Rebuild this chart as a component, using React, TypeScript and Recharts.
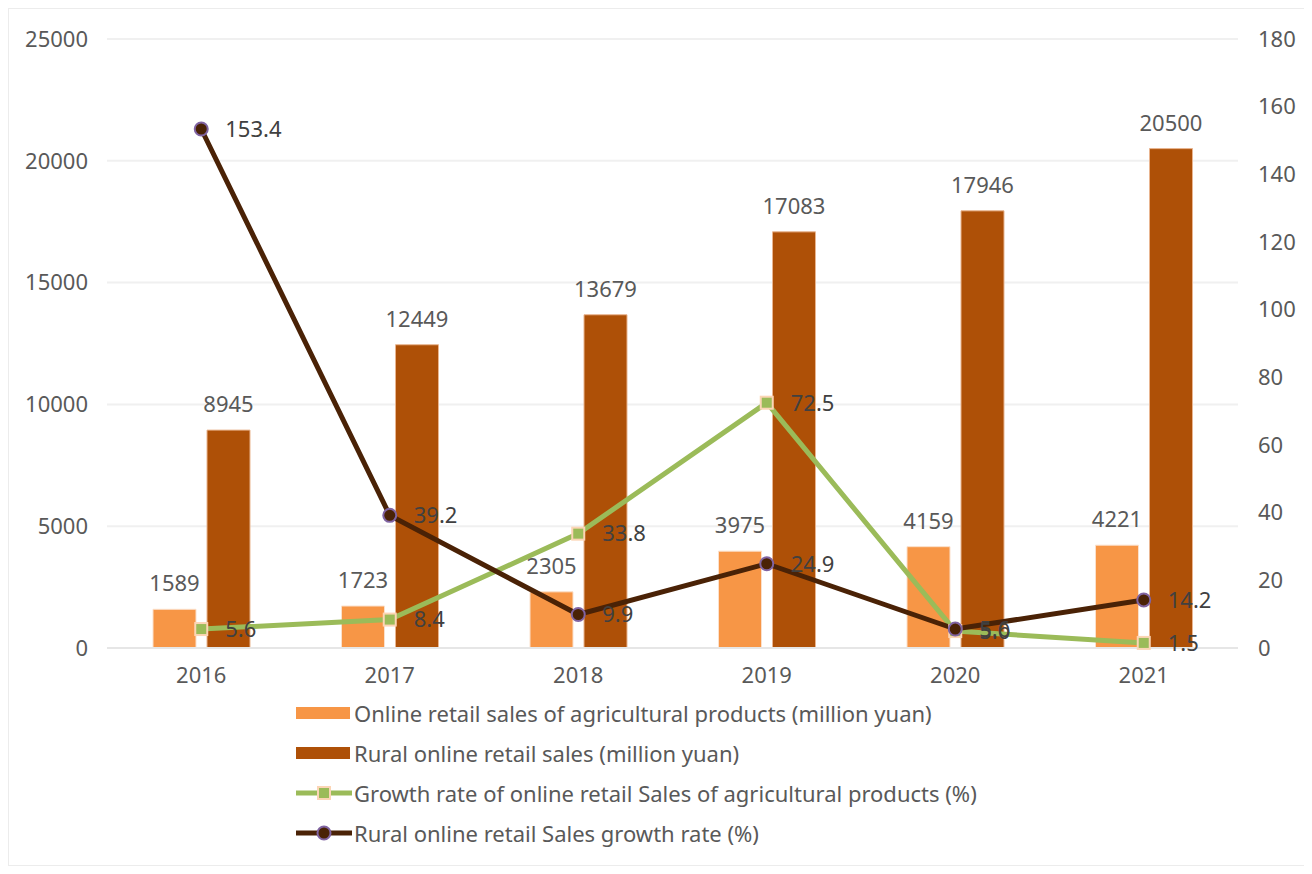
import React from 'react';
import {
  ComposedChart,
  Bar,
  Line,
  XAxis,
  YAxis,
  CartesianGrid,
  Legend,
  LabelList,
} from 'recharts';

const years = ['2016', '2017', '2018', '2019', '2020', '2021'];
const agriSales = [1589, 1723, 2305, 3975, 4159, 4221];
const ruralSales = [8945, 12449, 13679, 17083, 17946, 20500];
const agriGrowth = [5.6, 8.4, 33.8, 72.5, 5.0, 1.5];
const ruralGrowth = [153.4, 39.2, 9.9, 24.9, 5.6, 14.2];
const leftTicks = [0, 5000, 10000, 15000, 20000, 25000];
const rightTicks = [0, 20, 40, 60, 80, 100, 120, 140, 160, 180];

const seriesNames = {
  agri: 'Online retail sales of agricultural products (million yuan)',
  rural: 'Rural online retail sales (million yuan)',
  agriGrowth: 'Growth rate of online retail Sales of agricultural products (%)',
  ruralGrowth: 'Rural online retail Sales growth rate (%)',
};

const data = years.map((year, i) => ({
  year,
  agri: agriSales[i],
  rural: ruralSales[i],
  agriGrowth: agriGrowth[i],
  ruralGrowth: ruralGrowth[i],
}));

const FONT = '"Noto Sans", "Liberation Sans", sans-serif';
const TEXT = '#595959';
const ORANGE = '#F79646';
const BROWN = '#AE5007';
const GREEN = '#9BBB59';
const DARK = '#4A2206';
const PURPLE = '#8064A2';
const PEACH = '#FCD5B5';

const SquareDot = (props: any) => {
  const { cx, cy } = props;
  if (cx == null || cy == null) return null;
  return <rect x={cx - 6} y={cy - 6} width={12} height={12} fill={GREEN} stroke={PEACH} strokeWidth={2} />;
};

const CircleDot = (props: any) => {
  const { cx, cy } = props;
  if (cx == null || cy == null) return null;
  return <circle cx={cx} cy={cy} r={6.5} fill={DARK} stroke={PURPLE} strokeWidth={2} />;
};

const legendRows = [
  { key: 'agri', kind: 'bar', color: ORANGE },
  { key: 'rural', kind: 'bar', color: BROWN },
  { key: 'agriGrowth', kind: 'square', color: GREEN },
  { key: 'ruralGrowth', kind: 'circle', color: DARK },
];

const LegendContent = () => (
  <div style={{ paddingLeft: 287, fontFamily: FONT, fontSize: 22, color: TEXT }}>
    {legendRows.map((row) => (
      <div key={row.key} style={{ height: 40, display: 'flex', alignItems: 'center' }}>
        <svg width={58} height={20} style={{ flex: 'none' }}>
          {row.kind === 'bar' && <rect x={0} y={4} width={54} height={12} fill={row.color} />}
          {row.kind !== 'bar' && <line x1={0} y1={10} x2={56} y2={10} stroke={row.color} strokeWidth={5} />}
          {row.kind === 'square' && <SquareDot cx={28} cy={10} />}
          {row.kind === 'circle' && <CircleDot cx={28} cy={10} />}
        </svg>
        <span style={{ whiteSpace: 'nowrap' }}>{seriesNames[row.key as keyof typeof seriesNames]}</span>
      </div>
    ))}
  </div>
);

const tickStyle = { fill: TEXT, fontSize: 22, fontFamily: FONT };
const barLabel = { fill: TEXT, fontSize: 22, fontFamily: FONT };
const lineLabel = { fill: '#404040', fontSize: 22, fontFamily: FONT };

export default function App() {
  return (
    <div style={{ width: 1302, height: 856, border: '1px solid #ECECEC', background: '#fff' }}>
      <ComposedChart
        width={1302}
        height={856}
        data={data}
        margin={{ top: 30, right: 0, left: 0, bottom: 12 }}
        barSize={43}
        barGap={11}
      >
        <CartesianGrid vertical={false} stroke="#F0F0F0" strokeWidth={2} yAxisId="left" />
        <XAxis
          dataKey="year"
          axisLine={{ stroke: '#E6E6E6', strokeWidth: 2 }}
          tickLine={false}
          tickSize={0}
          tickMargin={19}
          height={45}
          tick={tickStyle}
        />
        <YAxis
          yAxisId="left"
          domain={[0, 25000]}
          ticks={leftTicks}
          axisLine={false}
          tickLine={false}
          tickSize={0}
          tickMargin={19}
          width={98}
          tick={tickStyle}
        />
        <YAxis
          yAxisId="right"
          orientation="right"
          domain={[0, 180]}
          ticks={rightTicks}
          axisLine={false}
          tickLine={false}
          tickSize={0}
          tickMargin={20}
          width={73}
          tick={tickStyle}
        />
        <Legend verticalAlign="bottom" wrapperStyle={{ left: 0, width: 1302 }} content={<LegendContent />} />
        <Bar yAxisId="left" dataKey="agri" name={seriesNames.agri} fill={ORANGE} stroke="#FBE0CB" strokeWidth={1} isAnimationActive={false}>
          <LabelList dataKey="agri" position="top" offset={18} style={barLabel} />
        </Bar>
        <Bar yAxisId="left" dataKey="rural" name={seriesNames.rural} fill={BROWN} stroke="#E9B590" strokeWidth={1} isAnimationActive={false}>
          <LabelList dataKey="rural" position="top" offset={18} style={barLabel} />
        </Bar>
        <Line
          yAxisId="right"
          dataKey="agriGrowth"
          name={seriesNames.agriGrowth}
          stroke={GREEN}
          strokeWidth={5}
          dot={<SquareDot />}
          activeDot={false}
          isAnimationActive={false}
        >
          <LabelList dataKey="agriGrowth" position="right" offset={24} style={lineLabel} formatter={(v: any) => Number(v).toFixed(1)} />
        </Line>
        <Line
          yAxisId="right"
          dataKey="ruralGrowth"
          name={seriesNames.ruralGrowth}
          stroke={DARK}
          strokeWidth={5}
          dot={<CircleDot />}
          activeDot={false}
          isAnimationActive={false}
        >
          <LabelList dataKey="ruralGrowth" position="right" offset={24} style={lineLabel} formatter={(v: any) => Number(v).toFixed(1)} />
        </Line>
      </ComposedChart>
    </div>
  );
}
